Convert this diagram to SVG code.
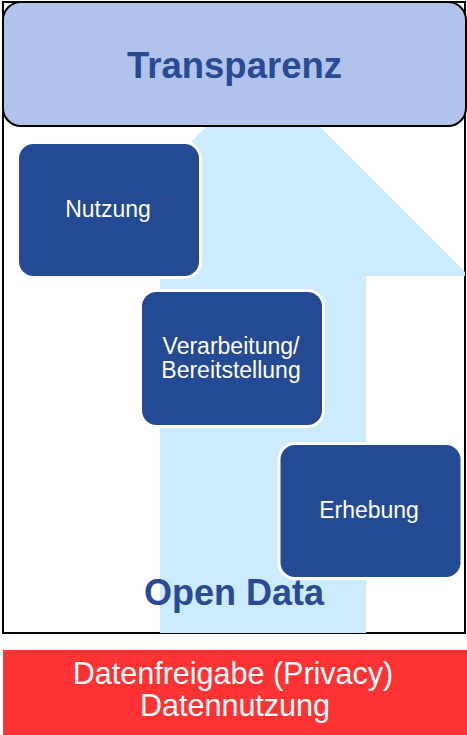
<svg xmlns="http://www.w3.org/2000/svg" width="467" height="735" viewBox="0 0 467 735">
  <style>
    .box { fill: #244A94; stroke: #FFFFFF; stroke-width: 3; }
    .lbl { font-family: "Liberation Sans", Arial, sans-serif; font-size: 23px; fill: #FFFFFF; text-anchor: middle; }
    .big { font-family: "Liberation Sans", Arial, sans-serif; font-weight: bold; fill: #2A4A96; text-anchor: middle; }
    .red { font-family: "Liberation Sans", Arial, sans-serif; font-size: 30.5px; fill: #FFFFFF; text-anchor: middle; }
  </style>
  <defs>
    <clipPath id="frameClip">
      <rect x="3" y="2" width="462" height="631"/>
    </clipPath>
  </defs>
  <rect width="467" height="735" fill="#FFFFFF"/>
  <g id="frame">
    <rect x="3" y="2" width="462" height="631" fill="#FFFFFF" stroke="#000000" stroke-width="2"/>
  </g>
  <g id="arrow" clip-path="url(#frameClip)">
    <polygon points="263,70 469,276 366,276 366,633 160,633 160,276 57,276" fill="#CCEBFD"/>
  </g>
  <g id="transparenz">
    <rect x="3" y="2" width="463" height="124" rx="18" ry="18" fill="#B0C4EB" stroke="#000000" stroke-width="2"/>
    <text class="big" x="234.5" y="78" font-size="36.5">Transparenz</text>
  </g>
  <g id="nutzung">
    <rect class="box" x="17.5" y="142.5" width="183" height="135" rx="16" ry="16"/>
    <text class="lbl" x="108" y="217">Nutzung</text>
  </g>
  <g id="verarbeitung">
    <rect class="box" x="140.5" y="290.5" width="183" height="136" rx="16" ry="16"/>
    <text class="lbl" x="231" y="354" font-size="22.5">Verarbeitung/</text>
    <text class="lbl" x="231" y="378" font-size="22.5">Bereitstellung</text>
  </g>
  <g id="erhebung">
    <rect class="box" x="279" y="443.5" width="183" height="135" rx="16" ry="16"/>
    <text class="lbl" x="369" y="518">Erhebung</text>
  </g>
  <g id="opendata">
    <text class="big" x="234" y="605" font-size="36">Open Data</text>
  </g>
  <g id="privacy">
    <rect x="3" y="650" width="464" height="85" fill="#FF3333"/>
    <text class="red" x="233" y="684">Datenfreigabe (Privacy)</text>
    <text class="red" x="235" y="716">Datennutzung</text>
  </g>
  <g id="connectors"/>
</svg>
